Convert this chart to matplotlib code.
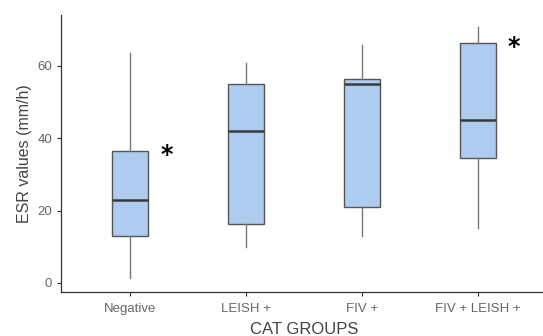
import matplotlib
matplotlib.use("Agg")
import matplotlib.pyplot as plt

plt.rcParams["font.family"] = ["Liberation Sans", "DejaVu Sans"]

categories = ["Negative", "LEISH +", "FIV +", "FIV + LEISH +"]
whisker_low = [1.3, 10.0, 13.0, 15.1]
q1 = [13.1, 16.2, 21.1, 34.6]
median = [22.9, 42.0, 54.9, 45.1]
q3 = [36.5, 54.9, 56.3, 66.3]
whisker_high = [63.7, 60.9, 65.8, 70.7]
significant = [True, False, False, True]

fig = plt.figure(figsize=(5.43, 3.36), dpi=100)
W, H = 543, 336
ax = fig.add_axes([61 / W, 1 - 292 / H, (547 - 61) / W, (292 - 15) / H])

stats = []
for i, c in enumerate(categories):
    stats.append(dict(label=c, whislo=whisker_low[i], q1=q1[i], med=median[i],
                      q3=q3[i], whishi=whisker_high[i], fliers=[]))

ax.bxp(stats, positions=range(1, len(categories) + 1), widths=0.31,
       patch_artist=True, showcaps=False,
       boxprops=dict(facecolor="#aecbf0", edgecolor="#555555", linewidth=1.0),
       medianprops=dict(color="#3a3a3a", linewidth=1.8),
       whiskerprops=dict(color="#7a7a7a", linewidth=1.0))

for i, s in enumerate(significant):
    if s:
        ax.annotate("*", xy=(i + 1 + 0.31, q3[i]), xytext=(0, -3),
                    textcoords="offset points", fontsize=17,
                    family="DejaVu Sans", fontweight="bold",
                    ha="center", va="center", color="black")

ax.set_xlim(0.4, 4.6)
ax.set_ylim(-2.5, 74.1)
ax.set_yticks([0, 20, 40, 60])
ax.set_xticks(range(1, len(categories) + 1))
ax.set_xticklabels(categories)

for sp in ["top", "right"]:
    ax.spines[sp].set_visible(False)
for sp in ["left", "bottom"]:
    ax.spines[sp].set_color("#333333")
    ax.spines[sp].set_linewidth(0.9)

ax.tick_params(axis="both", colors="#333333", labelcolor="#666666",
               labelsize=9.5, length=3, width=0.8)
ax.tick_params(axis="x", pad=5)
ax.set_xlabel("CAT GROUPS", fontsize=12, color="#444444", labelpad=5)
ax.set_ylabel("ESR values (mm/h)", fontsize=11.5, color="#444444", labelpad=4)

fig.savefig("out.png", dpi=100)
